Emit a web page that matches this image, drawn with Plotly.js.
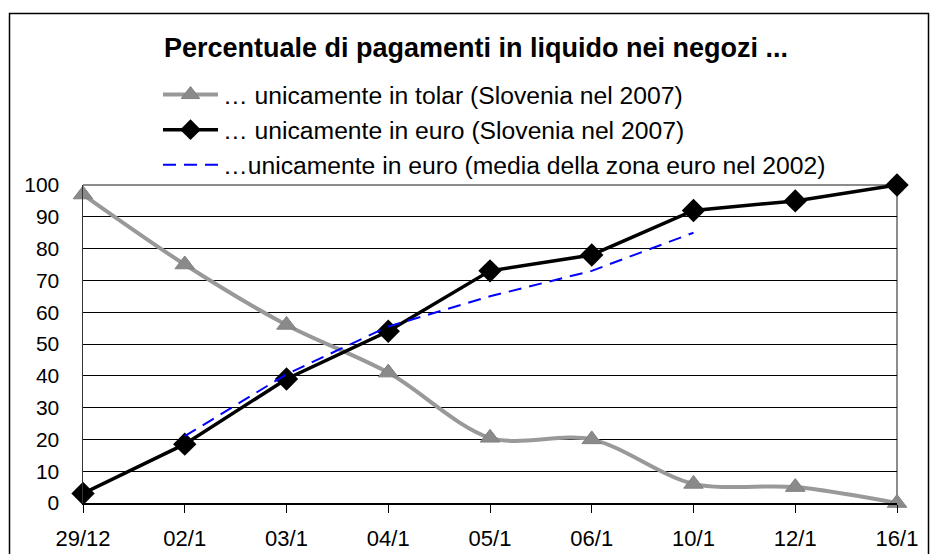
<!DOCTYPE html>
<html>
<head>
<meta charset="utf-8">
<script src="https://cdn.plot.ly/plotly-3.0.1.min.js"></script>
<style>
html,body{margin:0;padding:0;background:#fff;}
#chart{width:932px;height:554px;}
</style>
</head>
<body>
<div id="chart"></div>
<script>
const categories = ['29/12','02/1','03/1','04/1','05/1','06/1','10/1','12/1','16/1'];
const tolarSlovenia = [97, 75, 56, 41, 20.5, 20, 6, 5, 0];
const euroSlovenia = [3, 18.5, 39, 54, 73, 78, 92, 95, 100];
const euroZona2002 = [null, 21, 40.5, 55.5, 65, 73, 85, null, null];
const seriesNames = [
  '… unicamente in tolar (Slovenia nel 2007)',
  '… unicamente in euro (Slovenia nel 2007)',
  '…unicamente in euro (media della zona euro nel 2002)'
];
const titleText = '<b>Percentuale di pagamenti in liquido nei negozi ...</b>';

const FONT = 'Liberation Sans, Arial, sans-serif';
const L = 83, R = 35, T = 185, B = 51;
const W = 932, H = 554;
const pw = W - L - R, ph = H - T - B;
function px(x){ return (x - L) / pw; }
function py(y){ return (H - B - y) / ph; }

const traces = [
  {
    x: categories, y: tolarSlovenia, name: seriesNames[0], type: 'scatter', mode: 'lines+markers',
    line: {color: '#999999', width: 4, shape: 'spline', smoothing: 0.9},
    marker: {symbol: 'triangle-up', size: 17, color: '#8a8a8a', line: {color: '#808080', width: 1}},
    cliponaxis: false, legendgroup: 'a'
  },
  {
    x: categories, y: euroSlovenia, name: seriesNames[1], type: 'scatter', mode: 'lines+markers',
    line: {color: '#000000', width: 3.5},
    marker: {symbol: 'diamond', size: 18, color: '#000000'},
    cliponaxis: false, legendgroup: 'b'
  },
  {
    x: categories, y: euroZona2002, name: seriesNames[2], type: 'scatter', mode: 'lines',
    line: {color: '#0000ff', width: 2, dash: '13px,8px'},
    connectgaps: false, cliponaxis: false, legendgroup: 'c'
  }
];

const layout = {
  width: W, height: H,
  margin: {l: L, r: R, t: T, b: B, pad: 0},
  paper_bgcolor: '#ffffff', plot_bgcolor: '#ffffff',
  font: {family: FONT, color: '#000000', size: 20},
  title: {
    text: titleText, font: {family: FONT, size: 27, color: '#000000'},
    xref: 'container', yref: 'container', x: 476 / W, y: 1 - 48 / H,
    xanchor: 'center', yanchor: 'middle'
  },
  showlegend: true,
  legend: {
    x: px(158), y: py(72), xanchor: 'left', yanchor: 'top',
    bgcolor: 'rgba(0,0,0,0)', borderwidth: 0,
    font: {family: FONT, size: 24.7, color: '#000000'},
    traceorder: 'grouped', tracegroupgap: 0, itemwidth: 55
  },
  xaxis: {
    type: 'category', range: [0, 8], showgrid: false, zeroline: false,
    showline: true, linecolor: '#000000', linewidth: 1.5,
    ticks: 'outside', ticklen: 8, tickwidth: 1, tickcolor: '#000000',
    tickfont: {family: FONT, size: 22, color: '#000000'},
    ticklabelstandoff: 7, fixedrange: true
  },
  xaxis2: {
    type: 'linear', range: [0, 8], overlaying: 'x', anchor: 'y', side: 'bottom',
    tick0: 0, dtick: 1, ticks: 'inside', ticklen: 8, tickwidth: 1, tickcolor: '#000000',
    showticklabels: false, showgrid: false, zeroline: false, showline: false
  },
  yaxis: {
    range: [0, 100], dtick: 10, tick0: 0, showgrid: true, gridcolor: '#000000', gridwidth: 1,
    zeroline: false, showline: true, linecolor: '#333333', linewidth: 1.5,
    ticks: '', tickfont: {family: FONT, size: 21, color: '#000000'},
    ticklabelstandoff: 18, fixedrange: true
  },
  shapes: [
    {type: 'line', xref: 'paper', yref: 'paper', x0: 0, x1: 1, y0: 1, y1: 1,
     line: {color: '#8c8c8c', width: 2}, layer: 'between'},
    {type: 'line', xref: 'paper', yref: 'paper', x0: 1, x1: 1, y0: 0, y1: 1,
     line: {color: '#8c8c8c', width: 2}, layer: 'between'},
    {type: 'rect', xref: 'paper', yref: 'paper',
     x0: px(9.5), x1: px(928.5), y0: py(600), y1: py(13.5),
     line: {color: '#000000', width: 1.5}, fillcolor: 'rgba(0,0,0,0)', layer: 'above'}
  ]
};

Plotly.newPlot('chart', traces, layout, {displayModeBar: false, staticPlot: true});
</script>
</body>
</html>
